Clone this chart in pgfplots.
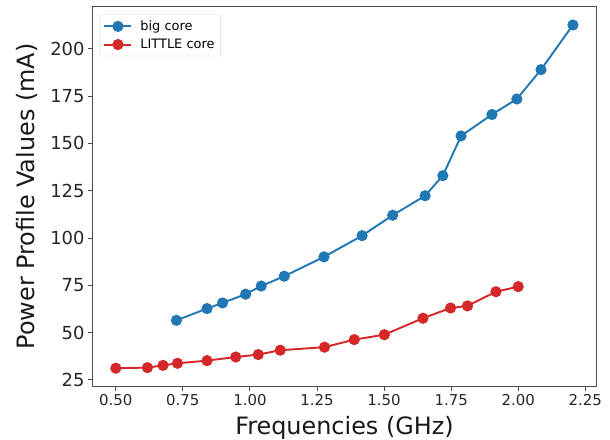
\documentclass[border=0pt]{standalone}
\usepackage{pgfplots}
\pgfplotsset{compat=1.18}
\usepackage{fontspec}
\setmainfont{DejaVu Sans}
\definecolor{tabblue}{HTML}{1F77B4}
\definecolor{tabred}{HTML}{D62728}
\begin{document}
\begin{tikzpicture}
\begin{axis}[
  at={(0,0)}, anchor=south west,
  scale only axis, width=503bp, height=379bp,
  xmin=0.415, xmax=2.29, ymin=21.8, ymax=222,
  xtick={0.5,0.75,1,1.25,1.5,1.75,2,2.25},
  ytick={25,50,75,100,125,150,175,200},
  xticklabel style={/pgf/number format/fixed, /pgf/number format/fixed zerofill, /pgf/number format/precision=2},
  /pgf/number format/assume math mode=true,
  tick align=outside, xtick pos=left, ytick pos=left,
  major tick length=5bp,
  tick style={black!70, line width=0.9bp},
  axis line style={black!70, line width=1bp},
  xticklabel style={font=\fontsize{15}{18}\selectfont, text=black!85},
  yticklabel style={font=\fontsize{18}{21}\selectfont, text=black!85},
  xlabel={Frequencies (GHz)},
  ylabel={Power Profile Values (mA)},
  label style={font=\fontsize{24}{28}\selectfont, text=black!90},
  xlabel style={at={(axis description cs:0.5,-0.1274)}, anchor=base},
  ylabel style={at={(axis description cs:-0.1163,0.5)}, anchor=base},
  legend style={at={(axis description cs:0.0125,0.980)}, anchor=north west,
    draw=black!18, rounded corners=2pt, font=\fontsize{13}{16}\selectfont,
    row sep=3bp, inner xsep=4bp, inner ysep=4bp},
  legend cell align=left,
  legend image code/.code={\draw[mark repeat=2,mark phase=2] plot coordinates {(0bp,0bp) (13.5bp,0bp) (27bp,0bp)}; \path (33bp,0bp);},
]
\addplot[tabblue, line width=1.9bp, mark=*, mark size=4.6bp, mark options={solid}] coordinates {
(0.726,56.5) (0.840,62.7) (0.898,65.7) (0.984,70.3) (1.042,74.6) (1.128,79.8)
(1.276,90.0) (1.418,101.2) (1.532,112.0) (1.653,122.3) (1.719,132.9) (1.787,153.9)
(1.902,165.2) (1.995,173.4) (2.085,188.9) (2.204,212.5)};
\addlegendentry{big core}
\addplot[tabred, line width=1.9bp, mark=*, mark size=4.6bp, mark options={solid}] coordinates {
(0.500,31.2) (0.618,31.5) (0.676,32.7) (0.730,33.8) (0.840,35.2) (0.947,37.1)
(1.031,38.4) (1.113,40.7) (1.278,42.3) (1.389,46.3) (1.501,48.9) (1.645,57.6)
(1.748,63.0) (1.811,64.1) (1.917,71.6) (2.000,74.3)};
\addlegendentry{LITTLE core}
\end{axis}
\pgfresetboundingbox
\path[use as bounding box] (-93bp,-54bp) rectangle (517bp,386bp);
\end{tikzpicture}
\end{document}
